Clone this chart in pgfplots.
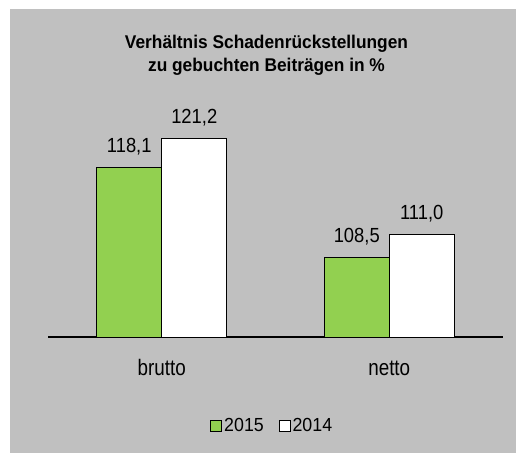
\documentclass[border=0pt]{standalone}
\usepackage{pgfplots}
\pgfplotsset{compat=1.18}
\usepackage{fontspec}
\setmainfont{Liberation Sans}
\newfontfamily\tickfont[FakeStretch=0.84]{Liberation Sans}
\newfontfamily\valfont[FakeStretch=0.9]{Liberation Sans}
\newfontfamily\legfont[FakeStretch=0.94]{Liberation Sans}
\newfontfamily\titlefont[FakeStretch=0.94]{Liberation Sans}
\definecolor{bggray}{HTML}{C0C0C0}
\definecolor{bargreen}{HTML}{92D050}
\begin{document}
\begin{tikzpicture}
\fill[white] (-48bp,-116bp) rectangle (468bp,337bp);
\fill[bggray] (-38bp,-116bp) rectangle (468bp,328bp);
\useasboundingbox (-48bp,-116bp) rectangle (468bp,337bp);
\node[anchor=base, font=\titlefont\fontsize{18.5}{21}\selectfont\bfseries] at (218.5bp,288bp) {Verhältnis Schadenrückstellungen};
\node[anchor=base, font=\titlefont\fontsize{18.5}{21}\selectfont\bfseries] at (218.5bp,265bp) {zu gebuchten Beiträgen in \%};
\begin{axis}[
  scale only axis,
  width=455bp, height=233.75bp,
  xmin=-0.5, xmax=1.5,
  ymin=100, ymax=125,
  ybar=0pt,
  bar width=65bp,
  axis y line=none,
  axis x line=bottom,
  x axis line style={-, line width=1.2bp, black},
  xtick={0,1},
  xticklabels={brutto,netto},
  major tick length=0pt,
  xticklabel style={anchor=base, yshift=-38bp, font=\tickfont\fontsize{22.5}{25}\selectfont},
  axis background/.style={fill=none},
  nodes near coords,
  /pgf/number format/.cd, use comma, fixed, fixed zerofill, precision=1, assume math mode=true,
  /pgfplots/.cd,
  every node near coord/.append style={anchor=base, yshift=15bp, font=\valfont\fontsize{20.5}{23}\selectfont, black},
  legend style={draw=none, fill=none, at={(0.493,-0.381)}, anchor=center,
    font=\legfont\fontsize{19}{21}\selectfont, legend columns=2,
    /tikz/every even column/.append style={column sep=13bp}},
  legend image code/.code={\draw[#1, line width=0.8bp] (0bp,-5.5bp) rectangle (11bp,5.5bp);},
  clip=false,
]
\addplot[fill=bargreen, draw=black, line width=1bp] coordinates {(0,118.1) (1,108.5)};
\addplot[fill=white, draw=black, line width=1bp] coordinates {(0,121.2) (1,111.0)};
\legend{2015,2014}
\end{axis}
\end{tikzpicture}
\end{document}
